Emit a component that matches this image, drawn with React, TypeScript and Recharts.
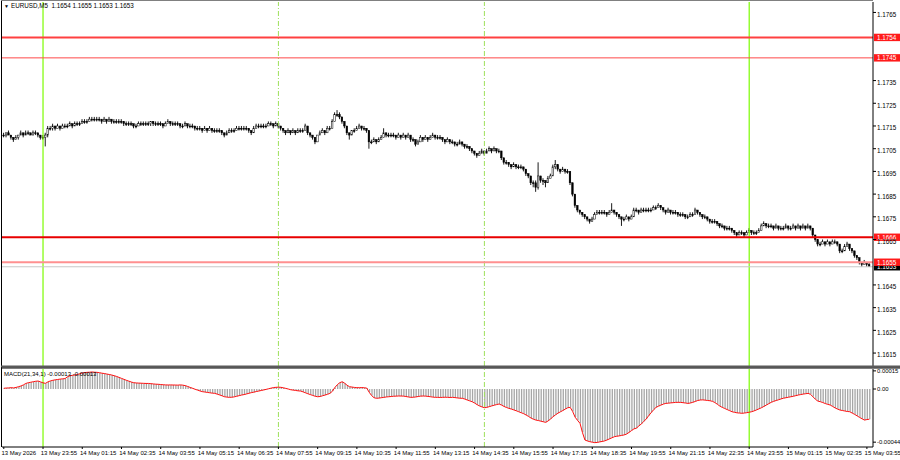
import React from "react";
import { ComposedChart, Bar, Line, XAxis, YAxis, ReferenceLine } from "recharts";

const FONT = "'Liberation Sans', Arial, sans-serif";

// EURUSD M5 quotes, stored in pips above 1.1000 (4-digit feed), one per bar from 13 May 22:35
const BASE = 1.1;

const opens = [
  711, 711, 712, 711, 710, 709, 710, 711, 712, 711, 712, 712, 711, 712, 712, 711, 710, 710, 711, 714,
  714, 715, 714, 715, 714, 715, 715, 715, 716, 715, 716, 716, 716, 717, 717, 717, 718, 718, 718, 718,
  718, 717, 718, 717, 718, 717, 717, 717, 717, 717, 716, 716, 716, 716, 715, 715, 716, 716, 716, 716,
  716, 717, 716, 716, 716, 716, 715, 716, 717, 716, 716, 716, 716, 715, 715, 716, 715, 715, 715, 714,
  714, 714, 713, 714, 713, 714, 713, 713, 713, 713, 712, 711, 712, 713, 713, 713, 714, 714, 714, 714,
  714, 713, 712, 714, 715, 715, 715, 715, 715, 716, 716, 715, 716, 715, 714, 713, 712, 713, 712, 713,
  712, 713, 713, 713, 715, 712, 711, 710, 708, 711, 712, 713, 712, 714, 714, 717, 720, 720, 719, 717,
  715, 712, 711, 713, 713, 714, 715, 714, 714, 713, 708, 708, 709, 708, 709, 710, 712, 711, 711, 711,
  711, 710, 711, 710, 711, 710, 711, 709, 709, 707, 708, 710, 709, 710, 709, 710, 711, 710, 710, 710,
  709, 708, 709, 708, 708, 707, 707, 708, 707, 706, 706, 705, 704, 703, 702, 703, 704, 703, 704, 705,
  704, 705, 704, 704, 701, 699, 699, 698, 697, 698, 697, 697, 697, 696, 694, 693, 690, 690, 688, 693,
  691, 691, 690, 692, 693, 697, 698, 696, 695, 696, 695, 695, 690, 685, 680, 678, 677, 676, 675, 674,
  673, 674, 676, 677, 677, 677, 677, 676, 677, 678, 677, 676, 675, 674, 674, 675, 674, 675, 678, 678,
  677, 678, 678, 678, 678, 678, 679, 679, 680, 679, 678, 677, 678, 677, 677, 677, 676, 676, 676, 675,
  675, 676, 676, 678, 677, 676, 675, 675, 674, 673, 673, 673, 672, 671, 671, 670, 670, 670, 669, 668,
  667, 668, 668, 667, 668, 669, 668, 668, 668, 669, 671, 672, 671, 671, 671, 670, 671, 670, 670, 670,
  671, 670, 670, 671, 670, 671, 670, 671, 670, 671, 670, 667, 665, 663, 663, 664, 663, 664, 663, 664,
  664, 663, 660, 660, 662, 663, 661, 660, 658, 657, 655, 654, 655, 654,
];

const highs = [
  712, 712, 713, 711, 710, 711, 711, 713, 712, 713, 713, 712, 713, 713, 712, 711, 711, 712, 715, 715,
  716, 715, 716, 715, 716, 716, 716, 717, 716, 717, 717, 717, 718, 718, 718, 719, 719, 719, 719, 719,
  718, 719, 718, 719, 718, 718, 718, 718, 718, 717, 717, 717, 717, 716, 716, 717, 717, 717, 717, 717,
  717, 717, 717, 717, 717, 716, 717, 718, 717, 717, 717, 717, 716, 716, 717, 716, 716, 716, 715, 715,
  715, 714, 715, 714, 715, 714, 714, 714, 714, 713, 712, 713, 714, 714, 714, 715, 715, 715, 715, 715,
  714, 713, 715, 716, 716, 716, 716, 716, 717, 717, 716, 717, 716, 715, 714, 713, 714, 713, 714, 713,
  714, 714, 714, 716, 715, 712, 711, 710, 711, 713, 714, 713, 715, 715, 718, 721, 722, 721, 719, 717,
  715, 712, 713, 714, 715, 716, 715, 715, 714, 713, 709, 710, 709, 710, 711, 714, 712, 712, 712, 712,
  711, 712, 711, 712, 711, 712, 711, 710, 709, 709, 711, 710, 711, 710, 711, 712, 711, 711, 711, 710,
  709, 710, 709, 709, 708, 708, 709, 708, 707, 707, 706, 705, 704, 703, 704, 705, 704, 705, 706, 705,
  706, 705, 705, 704, 701, 700, 699, 698, 699, 698, 698, 698, 697, 696, 694, 693, 691, 691, 699, 693,
  692, 691, 693, 694, 698, 700, 698, 696, 697, 696, 696, 695, 690, 685, 680, 678, 677, 676, 675, 674,
  675, 677, 678, 678, 678, 678, 677, 678, 681, 678, 677, 676, 675, 675, 676, 675, 676, 679, 679, 678,
  679, 679, 679, 679, 679, 680, 680, 681, 680, 679, 678, 679, 678, 678, 678, 677, 677, 677, 676, 676,
  677, 677, 679, 678, 677, 676, 676, 675, 674, 674, 674, 673, 672, 672, 671, 671, 671, 670, 669, 668,
  669, 669, 668, 669, 670, 669, 669, 669, 670, 672, 673, 672, 672, 672, 671, 672, 671, 671, 671, 672,
  671, 671, 672, 671, 672, 671, 672, 671, 672, 671, 670, 667, 665, 664, 665, 664, 665, 664, 665, 665,
  664, 663, 661, 663, 664, 663, 661, 660, 658, 657, 655, 656, 655, 655,
];

const lows = [
  710, 710, 711, 709, 708, 709, 709, 711, 710, 711, 711, 711, 711, 711, 710, 709, 709, 706, 710, 713,
  713, 713, 714, 713, 714, 714, 714, 715, 714, 715, 715, 715, 716, 716, 716, 717, 717, 717, 717, 717,
  716, 717, 716, 717, 716, 716, 716, 716, 716, 715, 715, 715, 715, 714, 714, 715, 715, 715, 715, 715,
  715, 715, 715, 715, 715, 714, 715, 716, 715, 715, 715, 715, 714, 714, 715, 714, 714, 714, 713, 713,
  713, 712, 713, 712, 713, 712, 712, 712, 712, 711, 710, 711, 712, 712, 712, 713, 713, 713, 713, 713,
  712, 711, 712, 714, 714, 714, 714, 714, 715, 715, 714, 715, 714, 713, 712, 711, 712, 711, 712, 711,
  712, 712, 712, 713, 711, 710, 709, 707, 708, 711, 712, 711, 712, 713, 714, 717, 719, 718, 716, 714,
  711, 709, 711, 712, 713, 714, 713, 713, 712, 705, 707, 708, 707, 708, 709, 710, 710, 710, 710, 710,
  709, 710, 709, 710, 709, 710, 708, 708, 706, 707, 708, 708, 709, 708, 709, 710, 709, 709, 709, 708,
  707, 708, 707, 707, 706, 706, 707, 706, 705, 705, 704, 703, 702, 701, 702, 703, 702, 703, 704, 703,
  704, 703, 703, 700, 698, 698, 697, 696, 697, 696, 696, 696, 695, 693, 692, 689, 688, 686, 687, 690,
  689, 688, 690, 692, 693, 696, 695, 694, 695, 694, 694, 689, 684, 679, 677, 676, 675, 674, 673, 672,
  673, 674, 676, 676, 676, 676, 675, 676, 677, 676, 675, 674, 671, 673, 674, 673, 674, 675, 677, 676,
  677, 677, 677, 677, 677, 678, 678, 679, 678, 677, 676, 677, 676, 676, 676, 675, 675, 675, 674, 674,
  675, 675, 676, 676, 675, 674, 674, 673, 672, 672, 672, 671, 670, 670, 669, 669, 669, 668, 667, 666,
  667, 667, 666, 667, 668, 667, 667, 667, 668, 669, 671, 670, 670, 670, 669, 670, 669, 669, 669, 670,
  669, 669, 670, 669, 670, 669, 670, 669, 670, 669, 666, 664, 662, 662, 663, 662, 663, 662, 663, 663,
  662, 659, 659, 660, 662, 660, 659, 657, 656, 654, 653, 654, 653, 653,
];

const closes = [
  711, 712, 711, 710, 709, 710, 711, 712, 711, 712, 712, 711, 712, 712, 711, 710, 710, 711, 714, 714,
  715, 714, 715, 714, 715, 715, 715, 716, 715, 716, 716, 716, 717, 717, 717, 718, 718, 718, 718, 718,
  717, 718, 717, 718, 717, 717, 717, 717, 717, 716, 716, 716, 716, 715, 715, 716, 716, 716, 716, 716,
  717, 716, 716, 716, 716, 715, 716, 717, 716, 716, 716, 716, 715, 715, 716, 715, 715, 715, 714, 714,
  714, 713, 714, 713, 714, 713, 713, 713, 713, 712, 711, 712, 713, 713, 713, 714, 714, 714, 714, 714,
  713, 712, 714, 715, 715, 715, 715, 715, 716, 716, 715, 716, 715, 714, 713, 712, 713, 712, 713, 712,
  713, 713, 713, 715, 712, 711, 710, 708, 711, 712, 713, 712, 714, 714, 717, 720, 720, 719, 717, 715,
  712, 711, 713, 713, 714, 715, 714, 714, 713, 708, 708, 709, 708, 709, 710, 712, 711, 711, 711, 711,
  710, 711, 710, 711, 710, 711, 709, 709, 707, 708, 710, 709, 710, 709, 710, 711, 710, 710, 710, 709,
  708, 709, 708, 708, 707, 707, 708, 707, 706, 706, 705, 704, 703, 702, 703, 704, 703, 704, 705, 704,
  705, 704, 704, 701, 699, 699, 698, 697, 698, 697, 697, 697, 696, 694, 693, 690, 690, 688, 693, 691,
  691, 690, 692, 693, 697, 698, 696, 695, 696, 695, 695, 690, 685, 680, 678, 677, 676, 675, 674, 673,
  674, 676, 677, 677, 677, 677, 676, 677, 678, 677, 676, 675, 674, 674, 675, 674, 675, 678, 678, 677,
  678, 678, 678, 678, 678, 679, 679, 680, 679, 678, 677, 678, 677, 677, 677, 676, 676, 676, 675, 675,
  676, 676, 678, 677, 676, 675, 675, 674, 673, 673, 673, 672, 671, 671, 670, 670, 670, 669, 668, 667,
  668, 668, 667, 668, 669, 668, 668, 668, 669, 671, 672, 671, 671, 671, 670, 671, 670, 670, 670, 671,
  670, 670, 671, 670, 671, 670, 671, 670, 671, 670, 667, 665, 663, 663, 664, 663, 664, 663, 664, 664,
  663, 660, 660, 662, 663, 661, 660, 658, 657, 655, 654, 655, 654, 653,
];

// MACD(21,34,1) per bar, in units of 0.00001 (signal SMA(1) equals the main line)
const macdPts = [
  0.6, 0.8, 0.9, 1.1, 0.9, 1.3, 1.9, 2.5, 3.4, 4.6, 5.2, 5.6, 6.0, 6.4, 6.6, 5.9, 5.1, 4.7, 5.9, 6.7,
  7.2, 7.6, 7.9, 8.2, 8.4, 8.6, 10.2, 10.9, 11.3, 11.6, 12.0, 12.6, 13.3, 13.6, 13.8, 13.9, 14.1, 13.9, 13.8, 13.5,
  13.1, 12.8, 12.4, 12.0, 11.6, 11.0, 10.4, 9.6, 8.8, 8.0, 7.2, 6.5, 5.8, 5.2, 5.0, 4.9, 4.8, 4.7, 4.6, 4.6,
  4.4, 4.2, 4.0, 3.9, 3.7, 3.5, 3.4, 3.3, 3.4, 3.3, 3.3, 3.2, 3.4, 3.2, 2.8, 2.1, 1.3, 0.6, -0.2, -0.9,
  -1.6, -2.2, -2.5, -2.8, -3.1, -3.4, -3.6, -4.2, -4.9, -5.6, -6.4, -6.7, -6.9, -6.8, -6.5, -6.0, -5.5, -5.0, -4.6, -4.1,
  -3.5, -3.0, -2.6, -2.1, -1.7, -1.2, -0.8, -0.3, 0.2, 0.7, 1.2, 1.4, 1.5, 1.4, 1.0, 0.5, 0.0, -0.6, -0.9, -1.2,
  -1.5, -1.7, -2.3, -3.1, -3.9, -4.6, -5.3, -6.0, -6.4, -6.2, -5.6, -5.0, -4.4, -3.6, -1.9, 1.2, 3.5, 5.2, 6.0, 4.8,
  3.1, 1.9, 1.6, 1.3, 1.1, 1.1, 1.2, 1.0, 0.8, -2.6, -5.4, -7.2, -7.7, -7.5, -7.2, -6.9, -6.6, -6.4, -6.2, -6.0,
  -5.9, -5.8, -5.8, -5.9, -6.2, -6.6, -6.9, -6.8, -6.6, -6.2, -5.9, -5.8, -5.9, -6.1, -6.4, -6.7, -6.9, -6.9, -7.0, -6.9,
  -6.8, -6.9, -7.0, -6.9, -7.1, -7.4, -7.6, -7.7, -8.3, -9.1, -9.8, -10.5, -11.6, -12.9, -14.0, -14.8, -15.5, -15.2, -14.6, -14.0,
  -13.4, -12.9, -12.4, -13.3, -14.4, -15.3, -16.0, -16.6, -17.3, -18.0, -18.8, -19.6, -20.4, -21.5, -22.7, -24.0, -25.0, -25.7, -26.1, -26.6,
  -27.1, -27.6, -26.4, -24.8, -22.9, -21.4, -20.0, -18.9, -17.8, -16.6, -15.5, -15.2, -18.6, -23.3, -26.0, -28.4, -36.0, -42.2, -43.0, -43.6,
  -44.0, -44.4, -44.2, -43.8, -43.4, -43.0, -42.2, -41.3, -40.4, -39.5, -39.1, -38.8, -38.4, -38.0, -37.3, -35.9, -34.4, -33.0, -32.4, -30.6,
  -28.9, -26.9, -24.8, -22.1, -19.6, -17.2, -15.2, -14.2, -13.3, -12.5, -11.9, -11.7, -11.5, -11.3, -11.1, -11.0, -11.1, -11.3, -11.6, -11.9,
  -11.6, -11.0, -10.3, -9.5, -9.1, -9.0, -9.2, -9.5, -9.7, -10.2, -11.2, -12.6, -14.1, -15.2, -16.1, -17.0, -17.9, -18.8, -19.3, -19.7,
  -19.9, -20.1, -19.9, -19.6, -19.2, -18.8, -18.1, -17.3, -16.4, -15.5, -14.4, -13.3, -12.1, -11.0, -10.2, -9.5, -8.9, -8.2, -7.6, -7.2,
  -6.8, -6.4, -6.0, -5.5, -5.0, -4.6, -4.2, -3.9, -3.6, -4.4, -6.4, -8.5, -10.0, -10.5, -11.2, -12.0, -12.7, -13.2, -14.4, -15.6,
  -16.6, -17.4, -17.8, -18.2, -18.6, -18.8, -19.9, -21.0, -22.2, -23.5, -24.6, -25.7, -25.3, -25.0,
];

const timeTickBars = [0, 16, 32, 48, 64, 80, 96, 112, 128, 144, 160, 176, 192, 208, 224, 240, 256, 272, 288, 304, 320, 336, 352];
const timeLabels = [
  "13 May 2026", "13 May 23:55", "14 May 01:15", "14 May 02:35", "14 May 03:55", "14 May 05:15",
  "14 May 06:35", "14 May 07:55", "14 May 09:15", "14 May 10:35", "14 May 11:55", "14 May 13:15",
  "14 May 14:35", "14 May 15:55", "14 May 17:15", "14 May 18:35", "14 May 19:55", "14 May 21:15",
  "14 May 22:35", "14 May 23:55", "15 May 01:15", "15 May 02:35", "15 May 03:55",
];

// scale labels left visible beside the line tags (1.1755, 1.1745 and 1.1655 sit under the tags)
const priceTicks = [
  1.1615, 1.1625, 1.1635, 1.1645, 1.1665, 1.1675, 1.1685,
  1.1695, 1.1705, 1.1715, 1.1725, 1.1735, 1.1765,
];
const macdTicks = [0.00015, 0, -0.00044];
const macdTickLabels = ["0.00015", "0.00", "-0.00044"];

const levels = [1.1754, 1.1745, 1.1666, 1.1655];
const dayBreaks = [16, 304];
const sessionMarks = [112, 196];

const symbol = "EURUSD,M5";
const macdTitle = "MACD(21,34,1) -0.00013 -0.00013";

const px = (p: number) => BASE + p / 10000;

const rows = closes.map((c, i) => ({
  i,
  open: px(opens[i]),
  high: px(highs[i]),
  low: px(lows[i]),
  close: px(c),
  hl: [px(lows[i]), px(highs[i])],
  macd: macdPts[i] / 100000,
}));

const last = rows[rows.length - 1];
const X_DOMAIN: [number, number] = [-0.73, 354.49];

const levelLook = [
  { stroke: "#ff4040", width: 2 },
  { stroke: "#ff4a4a", width: 1 },
  { stroke: "#e80000", width: 2 },
  { stroke: "#ff9090", width: 2 },
];

const Candle = (p: any) => {
  const { x, y, width, height, payload } = p;
  if (x == null || y == null || height == null || !payload) return null;
  const top = Math.min(y, y + height);
  const h = Math.abs(height);
  const span = payload.high - payload.low || 1;
  const at = (v: number) => top + ((payload.high - v) / span) * h;
  const cx = x + width / 2;
  const bTop = at(Math.max(payload.open, payload.close));
  const bBot = at(Math.min(payload.open, payload.close));
  const up = payload.close > payload.open;
  return (
    <g>
      <line x1={cx} x2={cx} y1={top} y2={top + h} stroke="#000" strokeWidth={0.9} />
      <rect
        x={cx - 0.8}
        y={bTop}
        width={1.6}
        height={Math.max(bBot - bTop, 0.9)}
        fill={up ? "#fff" : "#000"}
        stroke="#000"
        strokeWidth={0.5}
      />
    </g>
  );
};

const PriceTick = (p: any) => (
  <text x={p.x} y={p.y + 4.4} fontSize={6.3} fontFamily={FONT} fill="#000">
    {Number(p.payload.value).toFixed(4)}
  </text>
);

const MacdTick = (p: any) => {
  const k = macdTicks.indexOf(p.payload.value);
  return (
    <text x={p.x} y={p.y + 2.1} fontSize={5.9} fontFamily={FONT} fill="#000">
      {macdTickLabels[k]}
    </text>
  );
};

const TimeTick = (p: any) => {
  const k = timeTickBars.indexOf(p.payload.value);
  return (
    <text x={p.x - 2.3} y={p.y + 3.5} fontSize={6} fontFamily={FONT} fill="#000">
      {timeLabels[k]}
    </text>
  );
};

const PriceBox = (p: any) => {
  const vb = p.viewBox;
  if (!vb) return null;
  const x = vb.x + vb.width;
  const y = vb.y;
  return (
    <g>
      <rect x={x + 1} y={y - 3.7} width={26} height={7.4} fill={p.fill} />
      <text x={x + 4} y={y + 2.3} fontSize={6.3} fontFamily={FONT} fill="#fff">
        {p.text}
      </text>
    </g>
  );
};

export default function App() {
  return (
    <div style={{ position: "absolute", left: 0, top: 0, width: 900, height: 460, background: "#fff", overflow: "hidden" }}>
      <div style={{ position: "absolute", left: 0, top: 0 }}>
        <ComposedChart width={900} height={368} data={rows} margin={{ top: 2, right: 0, bottom: 2, left: 2 }}>
          <XAxis type="number" dataKey="i" domain={X_DOMAIN} allowDataOverflow hide />
          <YAxis
            orientation="right"
            width={27}
            domain={[1.16093, 1.17696]}
            allowDataOverflow
            ticks={priceTicks}
            interval={0}
            axisLine={{ stroke: "#000" }}
            tickLine={{ stroke: "#000" }}
            tickSize={3}
            tickMargin={1}
            tick={PriceTick}
          />
          {dayBreaks.map((b) => (
            <ReferenceLine key={"d" + b} x={b} stroke="#7cfc00" strokeWidth={1.2} />
          ))}
          {sessionMarks.map((b) => (
            <ReferenceLine key={"s" + b} x={b} stroke="#9ee05a" strokeWidth={1} strokeDasharray="5 2 1 2" />
          ))}
          <ReferenceLine
            y={last.close}
            stroke="#c8c8c8"
            strokeWidth={1}
            label={<PriceBox fill="#000" text={last.close.toFixed(4)} />}
          />
          <Bar dataKey="hl" barSize={2} shape={Candle} isAnimationActive={false} />
          {levels.map((lv, k) => (
            <ReferenceLine
              key={"l" + lv}
              y={lv}
              stroke={levelLook[k].stroke}
              strokeWidth={levelLook[k].width}
              label={<PriceBox fill="#ff1a1a" text={lv.toFixed(4)} />}
            />
          ))}
        </ComposedChart>
      </div>

      <div style={{ position: "absolute", left: 0, top: 368 }}>
        <ComposedChart width={900} height={92} data={rows} margin={{ top: 1, right: 0, bottom: 0, left: 2 }}>
          <XAxis
            type="number"
            dataKey="i"
            domain={X_DOMAIN}
            allowDataOverflow
            ticks={timeTickBars}
            interval={0}
            height={13}
            axisLine={{ stroke: "#000" }}
            tickLine={{ stroke: "#000" }}
            tickSize={2}
            tick={TimeTick}
          />
          <YAxis
            orientation="right"
            width={27}
            domain={[-0.00048, 0.0001656]}
            allowDataOverflow
            ticks={macdTicks}
            interval={0}
            axisLine={{ stroke: "#000" }}
            tickLine={{ stroke: "#000" }}
            tickSize={3}
            tickMargin={1}
            tick={MacdTick}
          />
          {dayBreaks.map((b) => (
            <ReferenceLine key={"d" + b} x={b} stroke="#7cfc00" strokeWidth={1.2} />
          ))}
          {sessionMarks.map((b) => (
            <ReferenceLine key={"s" + b} x={b} stroke="#9ee05a" strokeWidth={1} strokeDasharray="5 2 1 2" />
          ))}
          <Bar dataKey="macd" barSize={1.3} fill="#a6a6a6" isAnimationActive={false} />
          <Line type="linear" dataKey="macd" stroke="#ff1010" strokeWidth={1} dot={false} isAnimationActive={false} />
        </ComposedChart>
      </div>

      <svg width={900} height={460} style={{ position: "absolute", left: 0, top: 0, pointerEvents: "none" }}>
        <line x1={1.5} x2={1.5} y1={0} y2={447} stroke="#000" strokeWidth={1} />
        <line x1={1} x2={873} y1={0.5} y2={0.5} stroke="#808080" strokeWidth={1} />
        <rect x={1} y={365.5} width={899} height={2} fill="#5a5a5a" />
        <line x1={1} x2={900} y1={368} y2={368} stroke="#000" strokeWidth={1} />
        <text x={4} y={8.3} fontSize={5} fontFamily={FONT} fill="#000">▼</text>
        <text x={11} y={8.3} fontSize={6.3} fontFamily={FONT} fill="#000" style={{ whiteSpace: "pre" }}>
          {`${symbol}  ${last.open.toFixed(4)} ${last.high.toFixed(4)} ${last.low.toFixed(4)} ${last.close.toFixed(4)}`}
        </text>
        <text x={4} y={375.5} fontSize={6} fontFamily={FONT} fill="#000">{macdTitle}</text>
      </svg>
    </div>
  );
}
